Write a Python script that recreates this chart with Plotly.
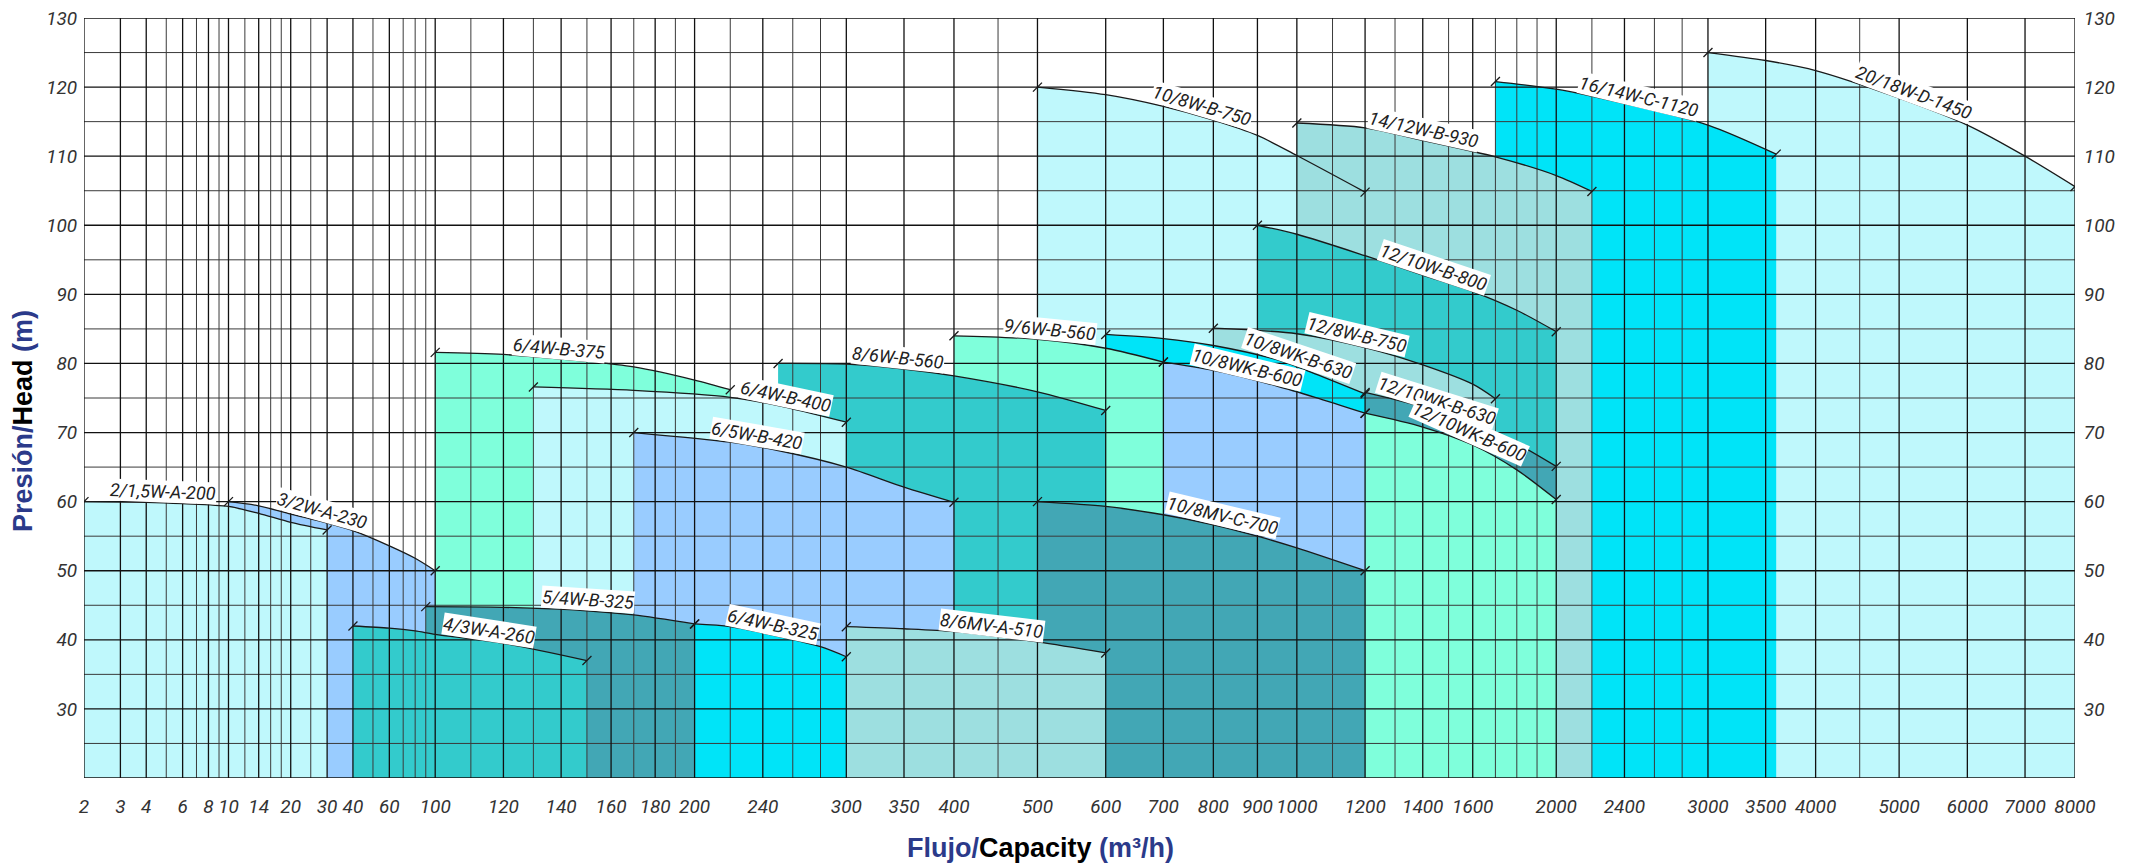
import numpy as np
import plotly.graph_objects as go

# ---------------- axis definitions ----------------
x_tick_labels = [2, 3, 4, 6, 8, 10, 14, 20, 30, 40, 60, 100, 120, 140, 160, 180, 200, 240,
                 300, 350, 400, 500, 600, 700, 800, 900, 1000, 1200, 1400, 1600, 2000, 2400,
                 3000, 3500, 4000, 5000, 6000, 7000, 8000]
x_grid = ([2, 3, 4, 5, 6, 7, 8, 9, 10, 12, 14, 16, 18, 20, 25, 30, 40, 50, 60, 70, 80, 90, 100]
          + list(range(110, 201, 10)) + [220, 240, 260, 280, 300, 350, 400, 450, 500]
          + list(range(600, 2001, 100)) + [2200, 2400, 2600, 2800, 3000, 3500, 4000, 4500,
                                           5000, 6000, 7000, 8000])
y_ticks = [30, 40, 50, 60, 70, 80, 90, 100, 110, 120, 130]
y_grid = list(range(20, 131, 5))
Y_MIN, Y_MAX = 20, 130

# ---------------- pump curves (flow m3/h, head m) ----------------
q_3_2W_A_230 = [10, 14, 20, 30, 40, 60, 80, 100]
h_3_2W_A_230 = [60, 59.4, 58.2, 56.9, 55.8, 53.6, 51.8, 50.0]
q_2_15W_A_200 = [2, 4, 6, 10, 14, 20, 30]
h_2_15W_A_200 = [60, 59.9, 59.7, 59.3, 58.3, 57.0, 55.9]
q_20_18W_D_1450 = [3000, 3500, 4000, 5000, 6000, 7000, 8000]
h_20_18W_D_1450 = [125, 123.85, 122.4, 118.4, 114.5, 110.0, 105.6]
q_16_14W_C_1120 = [1700, 2000, 2400, 3000, 3600]
h_16_14W_C_1120 = [120.8, 119.7, 117.6, 114.5, 110.3]
q_10_8W_B_750 = [500, 600, 700, 800, 900, 1000, 1200]
h_10_8W_B_750 = [120, 118.9, 117.2, 115.2, 113.0, 110.1, 104.8]
q_14_12W_B_930 = [1000, 1200, 1400, 1700, 2000, 2200]
h_14_12W_B_930 = [114.8, 114.1, 112.3, 109.9, 107.2, 104.9]
q_12_10W_B_800 = [900, 1000, 1200, 1400, 1600, 1800, 2000]
h_12_10W_B_800 = [100, 98.7, 95.6, 92.8, 90.4, 87.7, 84.6]
q_12_8W_B_750 = [800, 1000, 1200, 1400, 1600, 1700]
h_12_8W_B_750 = [85.1, 84.3, 82.3, 79.8, 77.0, 74.9]
q_12_10WK_B_630 = [1200, 1400, 1600, 1800, 2000]
h_12_10WK_B_630 = [75.8, 73.7, 71.2, 68.4, 65.1]
q_12_10WK_B_600 = [1200, 1400, 1600, 1800, 2000]
h_12_10WK_B_600 = [72.8, 70.8, 68.2, 64.6, 60.3]
q_10_8WK_B_630 = [600, 700, 800, 950, 1050, 1200]
h_10_8WK_B_630 = [84.2, 83.6, 82.6, 80.5, 78.5, 75.6]
q_9_6W_B_560 = [400, 500, 600, 700]
h_9_6W_B_560 = [84.0, 83.5, 82.2, 80.2]
q_10_8WK_B_600 = [700, 800, 950, 1050, 1200]
h_10_8WK_B_600 = [80.2, 79.0, 76.7, 75.1, 72.8]
q_8_6W_B_560 = [250, 300, 350, 400, 500, 600]
h_8_6W_B_560 = [80.0, 79.9, 79.2, 78.2, 75.9, 73.2]
q_10_8MV_C_700 = [500, 600, 700, 800, 900, 1000, 1200]
h_10_8MV_C_700 = [60, 59.3, 58.1, 56.65, 55.0, 53.3, 50.0]
q_6_4W_B_375 = [100, 120, 150, 170, 200, 220]
h_6_4W_B_375 = [81.6, 81.3, 80.3, 79.5, 77.6, 76.2]
q_6_4W_B_400 = [130, 170, 220, 250, 300]
h_6_4W_B_400 = [76.6, 76.1, 75.1, 73.9, 71.5]
q_6_5W_B_420 = [170, 220, 250, 300, 350, 400]
h_6_5W_B_420 = [70, 68.6, 67.4, 65.0, 62.1, 59.9]
q_8_6MV_A_510 = [300, 350, 400, 500, 600]
h_8_6MV_A_510 = [41.9, 41.6, 41.2, 39.7, 38.1]
q_5_4W_B_325 = [90, 120, 150, 170, 200]
h_5_4W_B_325 = [44.8, 44.7, 44.2, 43.6, 42.3]
q_4_3W_A_260 = [40, 60, 80, 100, 120, 150]
h_4_3W_A_260 = [42.0, 41.7, 41.3, 40.8, 39.5, 37.0]
q_6_4W_B_325 = [200, 220, 250, 280, 300]
h_6_4W_B_325 = [42.3, 41.9, 40.5, 39.0, 37.55]

# colours
LC, BL, AQ, TE = "#bff8fc", "#99ccff", "#7fffdb", "#33cbcc"
DT, CY, PT = "#42a7b5", "#00e4f8", "#9ddfe0"

# drawing order (back to front): name, flows, heads, colour, flow at label centre
pumps = [
    ("3/2W-A-230", q_3_2W_A_230, h_3_2W_A_230, BL, 27.5),
    ("2/1,5W-A-200", q_2_15W_A_200, h_2_15W_A_200, LC, 4.8),
    ("20/18W-D-1450", q_20_18W_D_1450, h_20_18W_D_1450, LC, 5150),
    ("16/14W-C-1120", q_16_14W_C_1120, h_16_14W_C_1120, CY, 2480),
    ("10/8W-B-750", q_10_8W_B_750, h_10_8W_B_750, LC, 770),
    ("14/12W-B-930", q_14_12W_B_930, h_14_12W_B_930, PT, 1395),
    ("12/10W-B-800", q_12_10W_B_800, h_12_10W_B_800, TE, 1430),
    ("12/8W-B-750", q_12_8W_B_750, h_12_8W_B_750, PT, 1165),
    ("12/10WK-B-630", q_12_10WK_B_630, h_12_10WK_B_630, DT, 1440),
    ("12/10WK-B-600", q_12_10WK_B_600, h_12_10WK_B_600, AQ, 1565),
    ("10/8WK-B-630", q_10_8WK_B_630, h_10_8WK_B_630, CY, 995),
    ("9/6W-B-560", q_9_6W_B_560, h_9_6W_B_560, AQ, 515),
    ("10/8WK-B-600", q_10_8WK_B_600, h_10_8WK_B_600, BL, 870),
    ("8/6W-B-560", q_8_6W_B_560, h_8_6W_B_560, TE, 343),
    ("10/8MV-C-700", q_10_8MV_C_700, h_10_8MV_C_700, DT, 815),
    ("6/4W-B-375", q_6_4W_B_375, h_6_4W_B_375, AQ, 139),
    ("6/4W-B-400", q_6_4W_B_400, h_6_4W_B_400, LC, 254),
    ("6/5W-B-420", q_6_5W_B_420, h_6_5W_B_420, BL, 235),
    ("8/6MV-A-510", q_8_6MV_A_510, h_8_6MV_A_510, PT, 441),
    ("5/4W-B-325", q_5_4W_B_325, h_5_4W_B_325, DT, 150),
    ("4/3W-A-260", q_4_3W_A_260, h_4_3W_A_260, TE, 115),
    ("6/4W-B-325", q_6_4W_B_325, h_6_4W_B_325, CY, 245),
]

# ---------------- scale: log axis, compressed below 100 m3/h ----------------
R_LOW = 206.8 / 862.0


def xu(q):
    q = np.asarray(q, dtype=float)
    lq = np.log10(q)
    return np.where(q <= 100, 2 + (lq - 2) * R_LOW, lq)


W, H = 2132, 867
ML, MR, MT, MB = 84, 57, 18, 89
U_MIN, U_MAX = float(xu(2)), float(xu(8000))
PX_U = (W - ML - MR) / (U_MAX - U_MIN)
PX_H = (H - MT - MB) / (Y_MAX - Y_MIN)

FONT_T = "Roboto, sans-serif"
INK = "#1a1a1a"

fig = go.Figure()

# filled areas
for name, q, h, col, _ in pumps:
    fig.add_trace(go.Scatter(x=xu(q), y=h, mode="lines", fill="tozeroy", fillcolor=col,
                             line=dict(width=0, shape="spline", smoothing=0.8, color=col),
                             hoverinfo="skip", showlegend=False))

# grid lines (drawn over the fills, as in the original)
major_x = set(x_tick_labels)


def grid_xy(values_x, values_y):
    gx, gy = [], []
    for v in values_x:
        uu = float(xu(v))
        gx += [uu, uu, None]
        gy += [Y_MIN, Y_MAX, None]
    for v in values_y:
        gx += [U_MIN, U_MAX, None]
        gy += [v, v, None]
    return gx, gy


gx, gy = grid_xy([v for v in x_grid if v not in major_x], [v for v in y_grid if v % 10 != 0])
fig.add_trace(go.Scatter(x=gx, y=gy, mode="lines", line=dict(color="#3a3a3a", width=1),
                         hoverinfo="skip", showlegend=False))
gx, gy = grid_xy([v for v in x_grid if v in major_x], [v for v in y_grid if v % 10 == 0])
fig.add_trace(go.Scatter(x=gx, y=gy, mode="lines", line=dict(color="#111111", width=1.3),
                         hoverinfo="skip", showlegend=False))

# curve lines
for name, q, h, col, _ in pumps:
    fig.add_trace(go.Scatter(x=xu(q), y=h, mode="lines",
                             line=dict(color=INK, width=1.3, shape="spline", smoothing=0.8),
                             hoverinfo="skip", showlegend=False))

# end ticks of each curve (on the right-hand axis, same range)
ex, ey = [], []
for name, q, h, col, _ in pumps:
    ex += [float(xu(q[0])), float(xu(q[-1]))]
    ey += [h[0], h[-1]]
fig.add_trace(go.Scatter(x=ex, y=ey, mode="markers", yaxis="y2",
                         marker=dict(symbol="line-ne", size=9, color=INK,
                                     line=dict(color=INK, width=1.3)),
                         hoverinfo="skip", showlegend=False))

# curve labels along the curves
annotations = []
D = 11
for name, q, h, col, ql in pumps:
    uq = xu(q)
    ul = float(xu(ql))
    hl = float(np.interp(ul, uq, h))
    du = 0.05
    ua, ub = max(ul - du, uq[0]), min(ul + du, uq[-1])
    ha, hb = np.interp(ua, uq, h), np.interp(ub, uq, h)
    slope = -((hb - ha) * PX_H) / ((ub - ua) * PX_U)
    ang = float(np.degrees(np.arctan(slope)))
    th = np.radians(ang)
    annotations.append(dict(x=ul, y=hl, xref="x", yref="y", text=name, showarrow=False,
                            textangle=ang, xanchor="center", yanchor="middle",
                            xshift=D * np.sin(th), yshift=D * np.cos(th),
                            bgcolor="white", borderpad=0,
                            font=dict(family=FONT_T, size=18, color="#222", style="italic")))

BLUE = "#2b3a8a"
annotations.append(dict(
    x=(1040 - ML) / (W - ML - MR), y=-(848 - (H - MB)) / (H - MT - MB),
    xref="paper", yref="paper", showarrow=False, xanchor="center", yanchor="middle",
    text=(f'<span style="color:{BLUE}">Flujo/</span><span style="color:#000">Capacity</span>'
          f'<span style="color:{BLUE}"> (m³/h)</span>'),
    font=dict(family="Liberation Sans, Arial, sans-serif", size=27, weight="bold")))
annotations.append(dict(
    x=(23 - ML) / (W - ML - MR), y=((H - MB) - 421) / (H - MT - MB),
    xref="paper", yref="paper", showarrow=False, xanchor="center", yanchor="middle",
    textangle=-90,
    text=(f'<span style="color:{BLUE}">Presión/</span><span style="color:#000">Head</span>'
          f'<span style="color:{BLUE}"> (m)</span>'),
    font=dict(family="Liberation Sans, Arial, sans-serif", size=27, weight="bold")))

tickfont = dict(family=FONT_T, size=19, color="#333", style="italic")
fig.update_layout(
    width=W, height=H, margin=dict(l=ML, r=MR, t=MT, b=MB, autoexpand=False),
    paper_bgcolor="white", plot_bgcolor="white", showlegend=False,
    annotations=annotations,
    xaxis=dict(range=[U_MIN, U_MAX], showgrid=False, zeroline=False, showline=False,
               tickmode="array", tickvals=[float(v) for v in xu(x_tick_labels)],
               ticktext=[str(v) for v in x_tick_labels], tickfont=tickfont, tickangle=0,
               ticks="outside", ticklen=11, tickcolor="rgba(0,0,0,0)", fixedrange=True),
    yaxis=dict(range=[Y_MIN, Y_MAX], showgrid=False, zeroline=False, showline=False,
               tickmode="array", tickvals=y_ticks, tickfont=tickfont,
               ticks="outside", ticklen=2, tickcolor="rgba(0,0,0,0)", fixedrange=True),
    yaxis2=dict(range=[Y_MIN, Y_MAX], overlaying="y", side="right", showgrid=False,
                zeroline=False, showline=False, tickmode="array", tickvals=y_ticks,
                tickfont=tickfont, ticks="outside", ticklen=4, tickcolor="rgba(0,0,0,0)",
                fixedrange=True),
)

fig.write_html("out.html", post_script="document.body.style.margin='0';",
               config={"displayModeBar": False})
